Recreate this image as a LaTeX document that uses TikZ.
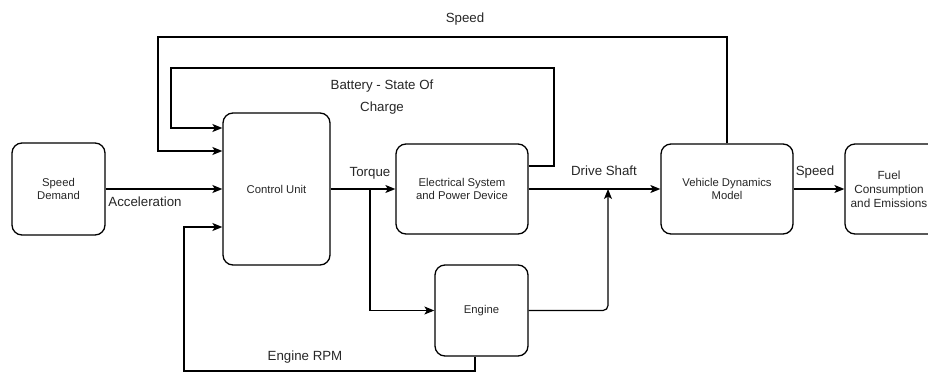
\documentclass[tikz,border=0pt]{standalone}
\usepackage{fontspec}
\setmainfont{Liberation Sans}
\usetikzlibrary{arrows.meta}
\begin{document}
\begin{tikzpicture}[x=1pt,y=-1pt,
  blk/.style={draw, line width=1.3pt, rounded corners=10pt, align=center, inner sep=1pt,
    font=\fontsize{11.3}{13.5}\selectfont, text=black!85},
  lbl/.style={font=\fontsize{13.3}{16}\selectfont, text=black!85, inner sep=0pt, align=center},
  arr/.style={line width=1.2pt, -{Stealth[length=10pt,width=8pt,inset=2.5pt]}},
  ln/.style={line width=1.2pt}]
\useasboundingbox (0,0) rectangle (928,372);
\clip (0,0) rectangle (928,372);
% blocks
\node[blk, minimum width=93pt, minimum height=92pt] (sd) at (58.5,189) {Speed\\Demand};
\node[blk, minimum width=107pt, minimum height=152pt] (cu) at (276.5,189) {Control Unit};
\node[blk, minimum width=132pt, minimum height=90pt] (el) at (462,189) {Electrical System\\and Power Device};
\node[blk, minimum width=132pt, minimum height=90pt] (vd) at (727,189) {Vehicle Dynamics\\Model};
\node[blk, minimum width=100pt, minimum height=90pt] (fu) at (895,189) {};
\node[blk, draw=none, font=\fontsize{11.8}{14}\selectfont] (futxt) at (889,189) {Fuel\\Consumption\\and Emissions};
\node[blk, minimum width=93pt, minimum height=91pt] (en) at (481.5,310.5) {Engine};
% coordinates
\coordinate (tq) at (370,189);
\coordinate (ds) at (608,189);
% main chain
\draw[arr] (sd) -- (cu);
\draw[arr] (cu) -- (el);
\draw[arr] (el) -- (vd);
\draw[arr] (vd) -- (fu);
% torque branch to engine
\draw[arr] (tq) |- (en.west);
% engine to drive shaft
\draw[arr, rounded corners=5pt] (en.east) -| (ds);
% battery loop
\draw[arr] (el.east |- 0,166) -- (554,166) -- (554,68) -- (171,68) -- (171,128) -- (cu.west |- 0,128);
% speed loop
\draw[arr] (vd.north) -- (727,37) -- (158,37) -- (158,151) -- (cu.west |- 0,151);
% engine rpm loop
\draw[arr] (en.south -| 475,0) -- (475,371) -- (184,371) -- (184,227) -- (cu.west |- 0,227);
% labels
\node[lbl] (lacc) at (145,202) {Acceleration};
\node[lbl] (ltq) at (370,173) {Torque};
\node[lbl] (lds) at (604,171) {Drive Shaft};
\node[lbl] (lsp) at (815,172) {Speed};
\node[lbl] (lsp2) at (465,19) {Speed};
\node[lbl, font=\fontsize{13.3}{22}\selectfont] (lbat) at (382,97) {Battery - State Of\\Charge};
\node[lbl] (lrpm) at (305,357) {Engine RPM};
\end{tikzpicture}
\end{document}
